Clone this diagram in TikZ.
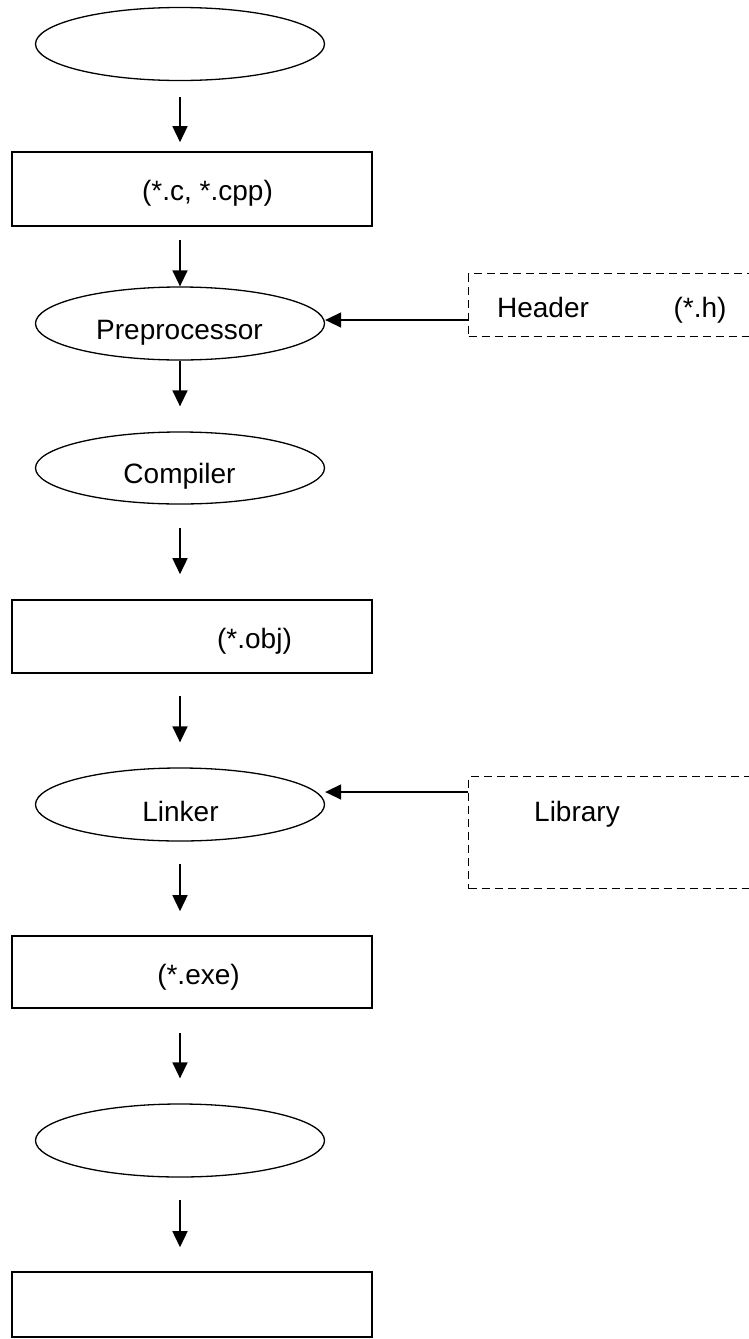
\documentclass[tikz,border=0pt]{standalone}
\usepackage{fontspec}
\setmainfont{Liberation Sans}
\usetikzlibrary{shapes.geometric,arrows.meta}
\begin{document}
\begin{tikzpicture}[x=1pt,y=1pt,
  ell/.style={draw, ellipse, line width=1.3pt, minimum width=289pt, minimum height=73pt, inner sep=0pt},
  box/.style={draw, rectangle, line width=1.6pt, minimum width=360pt, inner sep=0pt},
  dbox/.style={draw, dash pattern=on 8pt off 5pt, line width=1.4pt, anchor=north west, inner sep=0pt, minimum width=300pt},
  txt/.style={font=\fontsize{28}{32}\selectfont, anchor=base, inner sep=0pt},
  arr/.style={-{Triangle[length=16pt,width=15pt]}, line width=1.5pt}]
\clip (0,0) rectangle (749,-1339);
% main column
\node[ell] (start) at (180,-44) {};
\node[box, minimum height=74pt] (src) at (192,-189) {};
\node[ell] (pre) at (180,-323.5) {};
\node[ell, minimum height=72pt] (comp) at (180,-468) {};
\node[box, minimum height=73pt] (obj) at (192,-636.5) {};
\node[ell] (link) at (180,-804.5) {};
\node[box, minimum height=72pt] (exe) at (192,-972) {};
\node[ell] (run) at (180,-1140.5) {};
\node[box, minimum height=65pt] (out) at (192,-1304.5) {};
% side boxes
\node[dbox, minimum height=63pt] (hdr) at (468,-273) {};
\node[dbox, minimum height=112pt] (lib) at (468,-776) {};
% texts
\node[txt] (srct) at (207.5,-200) {(*.c, *.cpp)};
\node[txt] (pret) at (179.5,-339) {Preprocessor};
\node[txt] (compt) at (179.5,-483) {Compiler};
\node[txt] (objt) at (254.5,-648) {(*.obj)};
\node[txt] (linkt) at (180.5,-821) {Linker};
\node[txt] (exet) at (198.5,-984) {(*.exe)};
\node[txt] (hdrt) at (543,-317) {Header};
\node[txt] (hdrx) at (700,-317) {(*.h)};
\node[txt] (libt) at (577,-821) {Library};
% vertical arrows
\draw[arr, shorten <=16pt, shorten >=9pt] (start.south) -- (start.south |- src.north);
\draw[arr, shorten <=13pt] (src.south -| pre.north) -- (pre.north);
\draw[arr, shorten >=25pt] (pre.south) -- (comp.north);
\draw[arr, shorten <=23pt, shorten >=25pt] (comp.south) -- (comp.south |- obj.north);
\draw[arr, shorten <=22pt, shorten >=25pt] (obj.south -| link.north) -- (link.north);
\draw[arr, shorten <=22pt, shorten >=24pt] (link.south) -- (link.south |- exe.north);
\draw[arr, shorten <=24pt, shorten >=25pt] (exe.south -| run.north) -- (run.north);
\draw[arr, shorten <=22pt, shorten >=24pt] (run.south) -- (run.south |- out.north);
% side arrows
\coordinate (ha) at (468,-320);
\draw[arr] (ha) -- (pre.east |- ha);
\coordinate (la) at (468,-792);
\draw[arr] (la) -- (link.east |- la);
\end{tikzpicture}
\end{document}
